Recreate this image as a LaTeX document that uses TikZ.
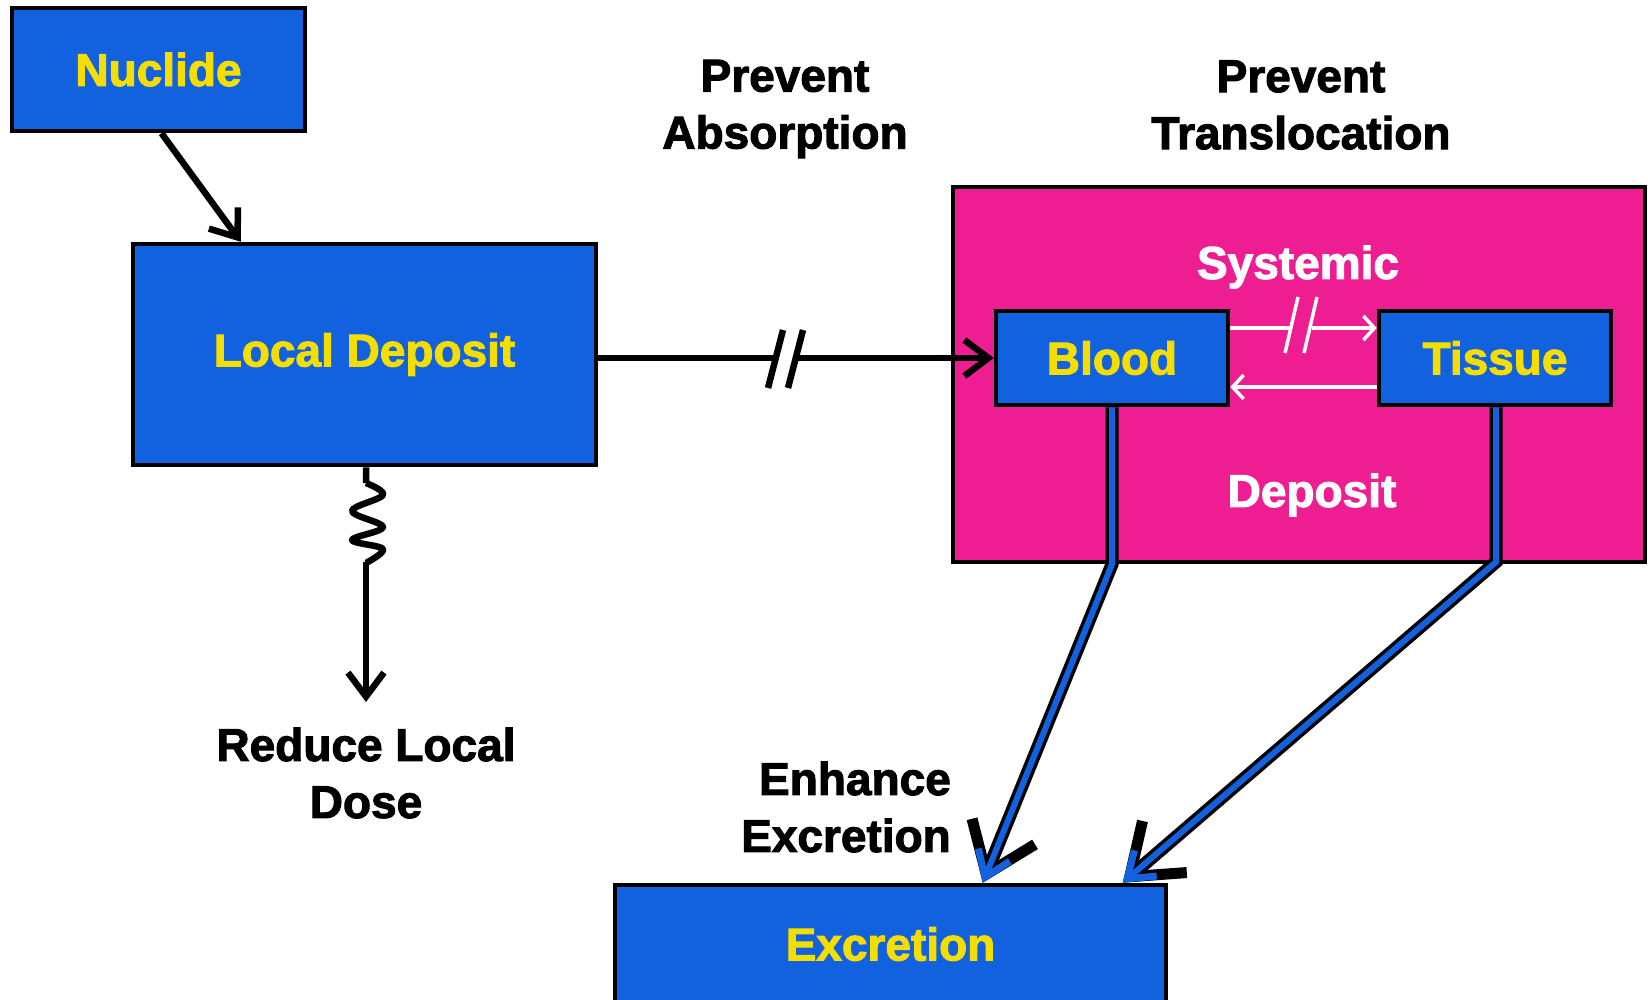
\documentclass[tikz,border=0pt]{standalone}
\usepackage{fontspec}
\setmainfont{Liberation Sans}[BoldFeatures={FakeBold=2.2}]
\usetikzlibrary{arrows.meta,calc}
\definecolor{boxblue}{RGB}{18,98,224}
\definecolor{txtyellow}{RGB}{244,222,0}
\definecolor{pinkbg}{RGB}{238,30,146}
\begin{document}
\begin{tikzpicture}[x=1pt,y=-1pt,
  bigfont/.style={font=\bfseries\fontsize{46}{57}\selectfont},
  bluebox/.style={draw=black, line width=4.5pt, fill=boxblue, text=txtyellow, bigfont, inner sep=0pt},
  label/.style={bigfont, inner sep=0pt, align=center},
  blk/.style={line width=6.5pt, black, line cap=butt},
  blkarrow/.style={blk, -{Straight Barb[length=24pt, width=36pt]}},
  whtwire/.style={white, line width=3.5pt},
  whtarrow/.style={whtwire, -{Straight Barb[length=11pt, width=24pt]}},
  outerline/.style={black, line width=13pt, line join=miter, -{Straight Barb[length=46pt, width=68pt, line width=11pt]}},
  innerline/.style={boxblue, line width=6pt, line join=miter, -{Straight Barb[length=24pt, width=34pt, line width=7pt]}}
]
\useasboundingbox (0,0) rectangle (1648,999);
\clip (0,0) rectangle (1648,999);
\fill[white] (0,0) rectangle (1648,999);

% pink systemic deposit area
\node[draw=black, line width=4.5pt, fill=pinkbg, minimum width=692, minimum height=375, inner sep=0pt] (pink) at (1299,374.5) {};

% boxes
\node[bluebox, minimum width=293, minimum height=123] (nuc) at (158.5,69.5) {Nuclide};
\node[bluebox, minimum width=463, minimum height=221] (ld) at (364.5,354.5) {Local Deposit};
\node[bluebox, minimum width=232, minimum height=94] (blood) at (1112,358) {Blood};
\node[bluebox, minimum width=232, minimum height=94] (tissue) at (1495,358) {Tissue};
\node[bluebox, minimum width=551, minimum height=118] (exc) at (890.5,944) {Excretion};

% labels
\node[label] (pa) at (785,109) {Prevent\\Absorption};
\node[label] (pt) at (1301,105) {Prevent\\Translocation};
\node[label, text=white] (sys) at (1298,267) {Systemic};
\node[label, text=white] (dep) at (1312,495) {Deposit};
\node[label] (rld) at (366,773) {Reduce Local\\Dose};
\node[bigfont, inner sep=0pt, align=right, anchor=east] (ee) at (951,807) {Enhance\\Excretion};

% nuclide -> local deposit
\draw[blkarrow] ($(nuc.south)+(3,0)$) -- ($(ld.north west)+(110,0)$);

% local deposit -> blood with break mark
\coordinate (brk) at (785.5,358);
\draw[blk] (ld.east |- blood.west) -- ($(brk)+(-9,0)$);
\draw[blkarrow] ($(brk)+(11,0)$) -- (blood.west);
\draw[blk] ($(brk)+(-17.5,30)$) -- ($(brk)+(-2.5,-28)$);
\draw[blk] ($(brk)+(2.5,30)$) -- ($(brk)+(17.5,-28)$);

% spring to reduce local dose
\draw[blk, line join=round] (ld.south -| 366,0) -- (366,483)
  plot[smooth, tension=0.6] coordinates {(366,483) (383,495) (352,511) (383,527) (352,540) (383,549) (366,563)};
\draw[blkarrow] (366,562) -- (366,702);

% systemic exchange arrows
\coordinate (sbrk) at (1301,328);
\draw[whtwire] ($(blood.east)+(0,-30)$) -- ($(sbrk)+(-12,0)$);
\draw[whtarrow] ($(sbrk)+(11,0)$) -- ($(tissue.west)+(0,-30)$);
\draw[whtwire] ($(sbrk)+(-16,25)$) -- ($(sbrk)+(-3,-31)$);
\draw[whtwire] ($(sbrk)+(3,25)$) -- ($(sbrk)+(16,-31)$);
\draw[whtarrow] ($(tissue.west)+(0,29)$) -- ($(blood.east)+(0,29)$);

% excretion pathways
\coordinate (bl) at (blood.south |- pink.south);
\coordinate (ts) at (1496,562);
\coordinate (ex1) at ($(exc.north west)+(370,0)$);
\coordinate (ex2) at ($(exc.north west)+(510,0)$);
\draw[outerline] (blood.south) -- (bl) -- (ex1);
\draw[innerline] (blood.south) -- (bl) -- (ex1);
\draw[outerline] (tissue.south -| ts) -- (ts) -- (ex2);
\draw[innerline] (tissue.south -| ts) -- (ts) -- (ex2);
\end{tikzpicture}
\end{document}
